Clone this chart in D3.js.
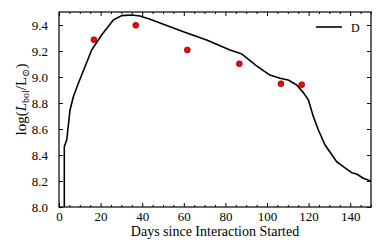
<!DOCTYPE html>
<html>
<head>
<meta charset="utf-8">
<script src="https://cdn.jsdelivr.net/npm/d3@7"></script>
<style>
  body { margin: 0; background: #fff; }
  svg text { font-family: "Liberation Serif", "DejaVu Serif", serif; fill: #000; }
</style>
</head>
<body>
<svg id="chart"></svg>
<script>
// model light curve (days, log L)
let curveDays = [2.55, 2.55, 3.7, 5.3, 6.9, 9.3, 12.5, 15.7, 20.5, 26.1, 30.1, 35.0, 38.9, 43.8, 59.8, 71.0, 82.2, 86.2, 87.8, 95.0, 101.4, 106.3, 110.2, 114.3, 117.5, 119.9, 122.3, 124.7, 127.9, 133.5, 136.7, 140.7, 143.1, 146.3, 149.5, 150]
let curveLogL = [7.9, 8.464, 8.515, 8.746, 8.848, 8.952, 9.079, 9.208, 9.323, 9.438, 9.472, 9.477, 9.469, 9.444, 9.348, 9.285, 9.208, 9.187, 9.177, 9.085, 9.015, 8.990, 8.977, 8.938, 8.88, 8.823, 8.695, 8.592, 8.477, 8.348, 8.310, 8.264, 8.254, 8.221, 8.202, 8.20]

// observed points
let obsDays = [16.8, 36.9, 61.7, 86.7, 106.7, 116.7]
let obsLogL = [9.287, 9.398, 9.208, 9.102, 8.948, 8.941]

let xTicks = [0, 20, 40, 60, 80, 100, 120, 140]
let yTicks = [8.0, 8.2, 8.4, 8.6, 8.8, 9.0, 9.2, 9.4]
let legendLabel = 'D'

let width = 390
let height = 244
let padL = 59, padR = 371, padT = 12, padB = 207
let serif = '"Liberation Serif", "DejaVu Serif", serif'

let svg = d3.select('#chart').attr('width', width).attr('height', height)

let xScale = d3.scaleLinear().domain([0, 150]).range([padL, padR])
let yScale = d3.scaleLinear().domain([8.0, 9.5]).range([padB, padT])

svg.append('clipPath').attr('id', 'clip')
    .append('rect')
    .attr('x', padL).attr('y', padT)
    .attr('width', padR - padL).attr('height', padB - padT)

// minor x ticks every 5 days
let minorX = d3.range(0, 151, 5).filter(d => d % 20 != 0)

let drawAxes = () => {
    let bx = svg.append('g').attr('transform', `translate(0, ${padB})`)
    bx.call(d3.axisBottom(xScale).tickValues(xTicks).tickSizeInner(-4).tickSizeOuter(0).tickPadding(5).tickFormat(d3.format('d')))
    bx.attr('font-family', serif).attr('font-size', 13)
    bx.append('g').call(d3.axisBottom(xScale).tickValues(minorX).tickSize(-2).tickFormat(''))

    let tx = svg.append('g').attr('transform', `translate(0, ${padT})`)
    tx.call(d3.axisTop(xScale).tickValues(xTicks).tickSize(-4).tickFormat(''))
    tx.append('g').call(d3.axisTop(xScale).tickValues(minorX).tickSize(-2).tickFormat(''))

    let ly = svg.append('g').attr('transform', `translate(${padL}, 0)`)
    ly.call(d3.axisLeft(yScale).tickValues(yTicks).tickSizeInner(-4).tickSizeOuter(0).tickPadding(11).tickFormat(d3.format('.1f')))
    ly.attr('font-family', serif).attr('font-size', 13)

    let ry = svg.append('g').attr('transform', `translate(${padR}, 0)`)
    ry.call(d3.axisRight(yScale).tickValues(yTicks).tickSize(-4).tickFormat(''))

    svg.selectAll('.domain').remove()
    svg.selectAll('.tick line').attr('stroke', '#000').attr('stroke-width', 1)
    svg.selectAll('.tick text').attr('fill', '#000')

    // frame
    svg.append('rect')
        .attr('x', padL).attr('y', padT)
        .attr('width', padR - padL).attr('height', padB - padT)
        .attr('fill', 'none').attr('stroke', '#000').attr('stroke-width', 1.2)
}

let drawCurve = () => {
    let line = d3.line()
        .x((d, i) => xScale(curveDays[i]))
        .y((d, i) => yScale(curveLogL[i]))
    svg.append('path')
        .datum(curveDays)
        .attr('clip-path', 'url(#clip)')
        .attr('d', line)
        .attr('fill', 'none')
        .attr('stroke', '#000')
        .attr('stroke-width', 1.6)
        .attr('stroke-linejoin', 'round')

    svg.selectAll('circle.obs')
        .data(obsDays)
        .enter()
        .append('circle')
        .attr('class', 'obs')
        .attr('cx', d => xScale(d))
        .attr('cy', (d, i) => yScale(obsLogL[i]))
        .attr('r', 3)
        .attr('fill', '#ff0000')
        .attr('stroke', '#600')
        .attr('stroke-width', 0.6)
}

let drawLabels = () => {
    svg.append('text')
        .attr('x', (padL + padR) / 2)
        .attr('y', 236)
        .attr('text-anchor', 'middle')
        .attr('font-size', 14)
        .text('Days since Interaction Started')

    let yl = svg.append('text')
        .attr('transform', `translate(26, ${(padT + padB) / 2 - 10}) rotate(-90)`)
        .attr('text-anchor', 'middle')
        .attr('font-size', 15)
    yl.append('tspan').text('log(')
    yl.append('tspan').style('font-style', 'italic').text('L')
    yl.append('tspan').attr('dy', 3).attr('font-size', 10).text('bol')
    yl.append('tspan').attr('dy', -3).text('/L')
    yl.append('tspan').attr('dy', 3).attr('font-size', 10).text('\u2299')
    yl.append('tspan').attr('dy', -3).text(')')

    // legend
    svg.append('line')
        .attr('x1', 316).attr('x2', 342).attr('y1', 27).attr('y2', 27)
        .attr('stroke', '#000').attr('stroke-width', 1.6)
    svg.append('text')
        .attr('x', 351).attr('y', 31.5)
        .attr('font-size', 12)
        .text(legendLabel)
}

drawAxes()
drawCurve()
drawLabels()
</script>
</body>
</html>
